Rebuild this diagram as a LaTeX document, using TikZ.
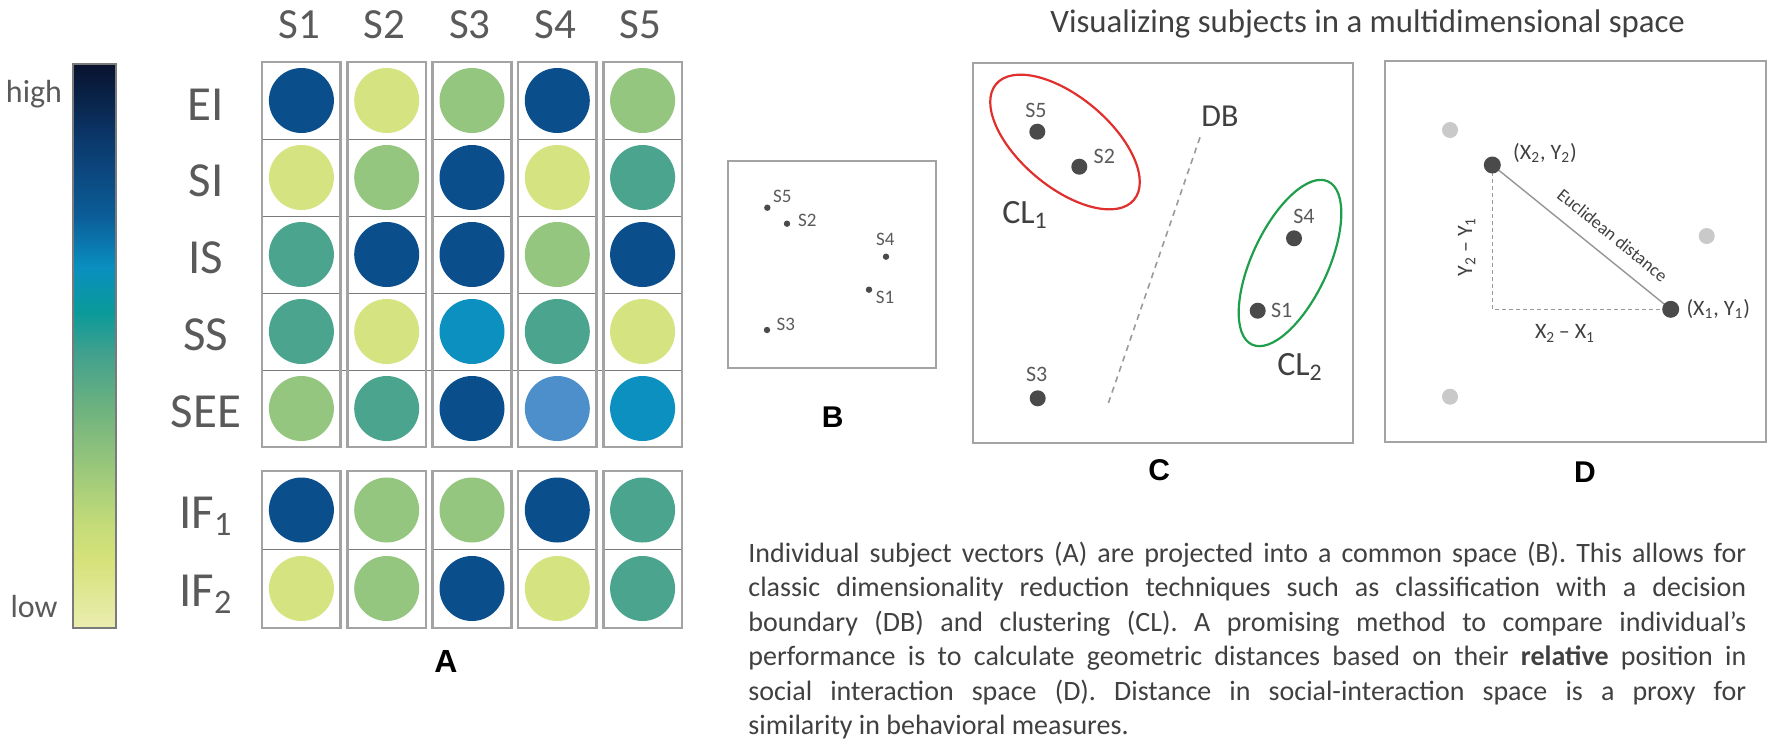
\documentclass[tikz,border=0pt]{standalone}
\usepackage{fontspec}
\setmainfont{Carlito}
\newfontfamily\panelfont{Liberation Sans}
\definecolor{cnavy}{HTML}{0A4F8C}
\definecolor{cyel}{HTML}{D5E381}
\definecolor{cgrn}{HTML}{94C67F}
\definecolor{cteal}{HTML}{4BA48E}
\definecolor{ccyan}{HTML}{0B90C0}
\definecolor{clblue}{HTML}{4C8FCB}
\definecolor{txtgray}{HTML}{5A5A5A}
\definecolor{txtdark}{HTML}{404040}
\definecolor{boxgray}{HTML}{A3A3A3}
\definecolor{linegray}{HTML}{7A7A7A}
\definecolor{dotdark}{HTML}{4A4A4A}
\definecolor{dotlight}{HTML}{C9C9C9}
\definecolor{clred}{HTML}{E0302E}
\definecolor{clgreen}{HTML}{1F9E4C}
\definecolor{dashgray}{HTML}{9A9A9A}
\definecolor{g0}{HTML}{EAEDB0}
\definecolor{g1}{HTML}{D6E27A}
\definecolor{g2}{HTML}{C5DC78}
\definecolor{g3}{HTML}{8FC27C}
\definecolor{g4}{HTML}{6DB27F}
\definecolor{g5}{HTML}{3FA08E}
\definecolor{g6}{HTML}{0A9A9A}
\definecolor{g7}{HTML}{0A8FC0}
\definecolor{g8}{HTML}{0B5D98}
\definecolor{g9}{HTML}{0B3A6E}
\definecolor{g10}{HTML}{08122E}
\pgfdeclareverticalshading{cbarshade}{100bp}{color(0bp)=(g0); color(25bp)=(g0); color(31bp)=(g1); color(34bp)=(g2); color(40.5bp)=(g3); color(44.5bp)=(g4); color(49.5bp)=(g5); color(53bp)=(g6); color(57bp)=(g7); color(61.5bp)=(g8); color(68bp)=(g9); color(75bp)=(g10); color(100bp)=(g10)}
\begin{document}
\begin{tikzpicture}[x=0.5pt,y=-0.5pt,
  colbox/.style={draw=boxgray, line width=1.3pt},
  rowline/.style={draw=linegray, line width=0.5pt},
  hdr/.style={font=\fontsize{21.5}{25}\selectfont, text=txtgray, anchor=base, inner sep=0},
  rowlab/.style={font=\fontsize{24.5}{28}\selectfont, text=txtgray, anchor=base, inner sep=0},
  barlab/.style={font=\fontsize{16}{19}\selectfont, text=txtgray, anchor=base, inner sep=0},
  panellab/.style={font=\panelfont\bfseries\fontsize{15}{18}\selectfont, anchor=center, inner sep=0},
  frame/.style={draw=boxgray, line width=1.1pt},
  bdot/.style={circle, fill=dotdark, inner sep=0, minimum size=3.2pt},
  cdot/.style={circle, fill=dotdark, inner sep=0, minimum size=8pt},
  ddot/.style={circle, fill=dotdark, inner sep=0, minimum size=8.5pt},
  ldot/.style={circle, fill=dotlight, inner sep=0, minimum size=8pt},
  blab/.style={font=\fontsize{9.5}{11}\selectfont, text=txtgray, inner sep=0},
  clab/.style={font=\fontsize{11}{13}\selectfont, text=txtgray, inner sep=0},
  dlab/.style={font=\fontsize{11}{13}\selectfont, text=txtdark, inner sep=0},
  pline/.style={font=\fontsize{14}{17}\selectfont, text=txtdark, anchor=base west, inner sep=0}
]
\useasboundingbox (0,0) rectangle (1775,750);

% ---------- colour bar ----------
\shade[shading=cbarshade] (73,64) rectangle (116,628);
\draw[draw=linegray, line width=1.2pt] (73,64) rectangle (116,628);
\node[barlab] (high) at (34,102) {high};
\node[barlab] (low) at (34,617) {low};

% ---------- grid A ----------
\foreach \cy/\cols in {100.5/{cnavy,cyel,cgrn,cnavy,cgrn},
                       177.5/{cyel,cgrn,cnavy,cyel,cteal},
                       254.5/{cteal,cnavy,cnavy,cgrn,cnavy},
                       331.5/{cteal,cyel,ccyan,cteal,cyel},
                       408.5/{cgrn,cteal,cnavy,clblue,ccyan},
                       510/{cnavy,cgrn,cgrn,cnavy,cteal},
                       588.5/{cyel,cgrn,cnavy,cyel,cteal}}{
  \foreach \c [count=\i from 0] in \cols {
    \fill[\c] ({301.4+85.3*\i},\cy) circle[radius=32.5];
  }
}
\draw[rowline] (262,370) -- (682,370);
\foreach \i in {0,...,4}{
  \pgfmathsetmacro{\cx}{301.4+85.3*\i}
  \foreach \ry in {139,216,293}{
    \draw[rowline] ({\cx-39.3},\ry) -- ({\cx+39.3},\ry);
  }
  \draw[rowline] ({\cx-39.3},549.5) -- ({\cx+39.3},549.5);
  \draw[colbox] ({\cx-39.3},62) rectangle ({\cx+39.3},447);
  \draw[colbox] ({\cx-39.3},471) rectangle ({\cx+39.3},628);
}
\node[hdr] (h1) at (299.4,38) {S1};
\node[hdr] (h2) at (384.7,38) {S2};
\node[hdr] (h3) at (470.0,38) {S3};
\node[hdr] (h4) at (555.3,38) {S4};
\node[hdr] (h5) at (640.6,38) {S5};

\node[rowlab] (rEI) at (206,120) {EI};
\node[rowlab] (rSI) at (206,196) {SI};
\node[rowlab] (rIS) at (206,273) {IS};
\node[rowlab] (rSS) at (206,350) {SS};
\node[rowlab] (rSEE) at (206,427) {SEE};
\node[rowlab] (rIF1) at (206,528) {IF\textsubscript{1}};
\node[rowlab] (rIF2) at (206,606) {IF\textsubscript{2}};
\node[panellab, font=\panelfont\bfseries\fontsize{16}{19}\selectfont] (labA) at (446,661) {A};

% ---------- panel B ----------
\draw[frame] (728,161) rectangle (936,368);
\node[bdot] (b5) at (767.3,207.7) {};
\node[bdot] (b2) at (787,223.7) {};
\node[bdot] (b4) at (886,256.7) {};
\node[bdot] (b1) at (869,289.7) {};
\node[bdot] (b3) at (767,330) {};
\node[blab] (bl5) at (782.3,196.7) {S5};
\node[blab] (bl2) at (807.3,220) {S2};
\node[blab] (bl4) at (885.3,239.3) {S4};
\node[blab] (bl1) at (885,297.3) {S1};
\node[blab] (bl3) at (785.7,324.3) {S3};
\node[panellab] (labB) at (832.7,416.7) {B};

% ---------- title ----------
\node[font=\fontsize{16.4}{19}\selectfont, text=txtdark, anchor=base west, inner sep=0] (title) at (1050,32) {Visualizing subjects in a multidimensional space};

% ---------- panel C ----------
\draw[frame] (973,63) rectangle (1353,443);
\draw[clred, line width=1.1pt, rotate around={-40:(1065,142)}] (1065,142) ellipse [x radius=90, y radius=45];
\draw[clgreen, line width=1.1pt, rotate around={65:(1290,263)}] (1290,263) ellipse [x radius=90, y radius=38];
\coordinate (dbtop) at (1200,137.3);
\coordinate (dbbot) at (1107.7,405);
\draw[dashgray, line width=0.8pt, dash pattern=on 3pt off 2.5pt] (dbtop) -- (dbbot);
\node[cdot] (c5) at (1037.3,131.7) {};
\node[cdot] (c2) at (1079.3,166.7) {};
\node[cdot] (c3) at (1037.7,398.3) {};
\node[cdot] (c4) at (1294,238.3) {};
\node[cdot] (c1) at (1257.7,310.7) {};
\node[clab] (cl5) at (1036,110) {S5};
\node[clab] (cl2) at (1104.3,156.7) {S2};
\node[clab] (cl3) at (1036.7,374.3) {S3};
\node[clab] (cl4) at (1304,216.7) {S4};
\node[clab] (cl1) at (1281.7,310) {S1};
\node[font=\fontsize{16}{19}\selectfont, text=txtdark, inner sep=0] (db) at (1220,116.7) {DB};
\node[font=\fontsize{17}{20}\selectfont, text=txtdark, inner sep=0] (cla) at (1025,215) {CL\textsubscript{1}};
\node[font=\fontsize{17}{20}\selectfont, text=txtdark, inner sep=0] (clb) at (1300,366.7) {CL\textsubscript{2}};
\node[panellab] (labC) at (1159.3,470) {C};

% ---------- panel D ----------
\draw[frame] (1385,61) rectangle (1766,442.3);
\node[ldot] (g1) at (1450,130) {};
\node[ldot] (g2) at (1706.7,236) {};
\node[ldot] (g3) at (1450,396.7) {};
\coordinate (p2) at (1492.3,165);
\coordinate (p1) at (1670.7,309.3);
\coordinate (pc) at (1492.3,309.3);
\draw[dashgray, line width=0.6pt, dash pattern=on 2pt off 1.5pt] (p2) -- (pc) -- (p1);
\draw[draw=linegray!80, line width=0.7pt] (p2) -- node[sloped, above=7pt, inner sep=0, font=\fontsize{9}{11}\selectfont, text=txtdark, pos=0.6] (eu) {Euclidean distance} (p1);
\node[ddot] (d2) at (p2) {};
\node[ddot] (d1) at (p1) {};
\node[dlab] (d2l) at (1545,153.3) {(X\textsubscript{2}, Y\textsubscript{2})};
\node[dlab] (d1l) at (1718.3,309.3) {(X\textsubscript{1}, Y\textsubscript{1})};
\node[dlab, rotate=90] (dy) at (1466.7,246.7) {Y\textsubscript{2}\,– Y\textsubscript{1}};
\node[dlab] (dx) at (1565,333.3) {X\textsubscript{2}\,– X\textsubscript{1}};
\node[panellab] (labD) at (1585,471.7) {D};

% ---------- paragraph ----------
\node[pline] (t1) at (748,562) {\makebox[499pt][s]{Individual subject vectors (A) are projected into a common space (B). This allows for}};
\node[pline] (t2) at (748,596.5) {\makebox[499pt][s]{classic dimensionality reduction techniques such as classification with a decision}};
\node[pline] (t3) at (748,631) {\makebox[499pt][s]{boundary (DB) and clustering (CL). A promising method to compare individual’s}};
\node[pline] (t4) at (748,665.5) {\makebox[499pt][s]{performance is to calculate geometric distances based on their \textbf{relative} position in}};
\node[pline] (t5) at (748,700) {\makebox[499pt][s]{social interaction space (D). Distance in social-interaction space is a proxy for}};
\node[pline] (t6) at (748,734.5) {similarity in behavioral measures.};
\end{tikzpicture}
\end{document}
